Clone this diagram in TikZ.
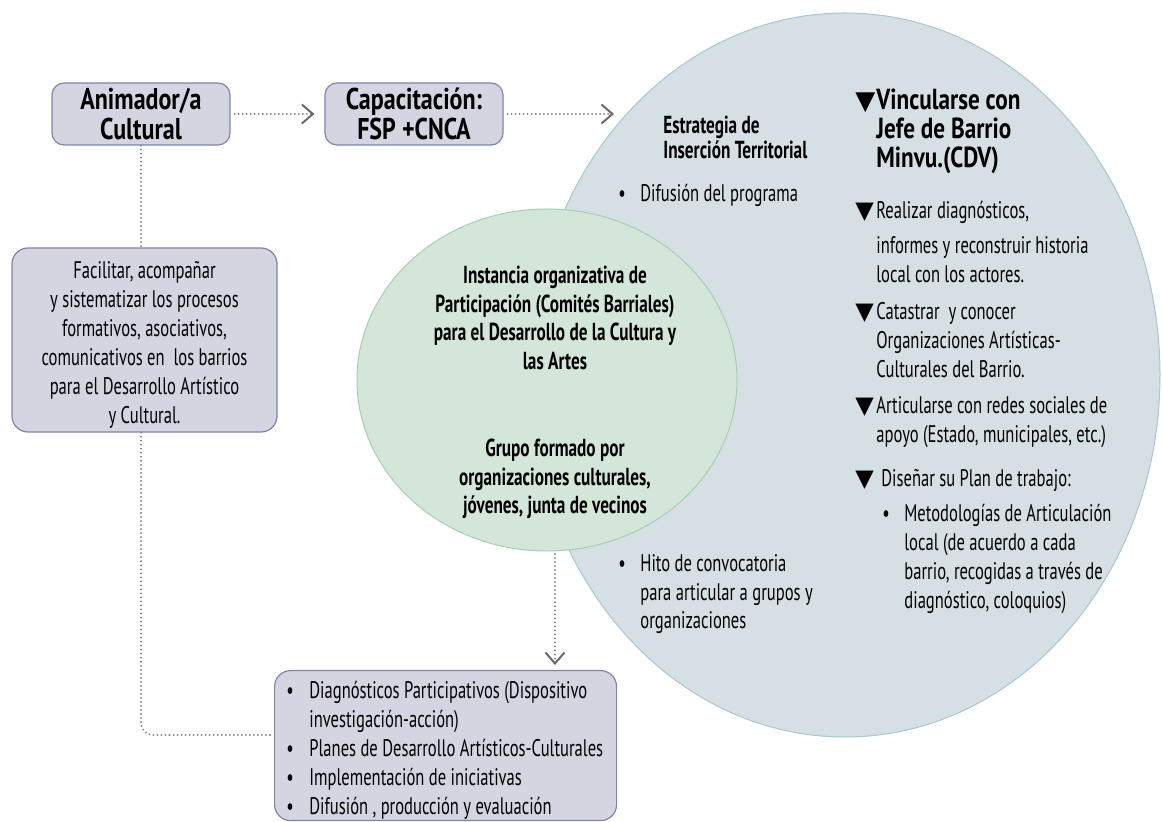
\documentclass[tikz,border=0pt]{standalone}
\usepackage{fontspec}
\setmainfont{PT Sans}[FakeStretch=0.69]
\newfontfamily\bfam{PT Sans}[FakeStretch=0.70]
\newfontfamily\tfam{PT Sans}[FakeStretch=0.80]
\newfontfamily\symfont{DejaVu Sans}
\usetikzlibrary{arrows.meta,shapes.geometric}
\definecolor{boxfill}{HTML}{D5D5E2}
\definecolor{boxline}{HTML}{8282AC}
\definecolor{ellfill}{HTML}{D6DFE4}
\definecolor{ellline}{HTML}{A9C7CF}
\definecolor{grnfill}{HTML}{D4E6D9}
\definecolor{grnline}{HTML}{A5CFB2}
\definecolor{arrcol}{HTML}{7A7A7A}
\definecolor{tipcol}{HTML}{6A6A6A}
\tikzset{
  pbox/.style={draw=boxline, fill=boxfill, line width=0.6pt, rounded corners=7pt, inner sep=0pt},
  dotline/.style={draw=arrcol, line width=1pt, line cap=round, dash pattern=on 0.01pt off 2pt},
  chev/.style={-{Straight Barb[length=5.5pt,width=9.5pt,line width=1pt,color=tipcol]}},
  tl/.style={inner sep=0pt, anchor=base west},
  tc/.style={inner sep=0pt, anchor=base},
  reg/.style={font=\fontsize{12}{14.5}\selectfont},
  bld/.style={font=\bfam\fontsize{12.3}{14.25}\selectfont\bfseries},
  ttl/.style={font=\tfam\fontsize{15}{15}\selectfont\bfseries},
}
\newcommand{\tri}{{\symfont\fontsize{12}{12}\selectfont ▼}}
\begin{document}
\begin{tikzpicture}[x=0.5pt,y=-0.5pt]
\path[use as bounding box] (0,0) rectangle (1163,822);
% big shapes
\node[ellipse, draw=ellline, fill=ellfill, line width=0.5pt, minimum width=315pt, minimum height=362pt, inner sep=0pt] (ell) at (845,375) {};
\node[ellipse, draw=grnline, fill=grnfill, line width=0.5pt, minimum width=190pt, minimum height=171pt, inner sep=0pt] (grn) at (547,380) {};
% boxes
\node[pbox, ttl, align=center, minimum width=89pt, minimum height=31pt, rounded corners=6pt] (anim) at (141,114) {Animador/a\\Cultural};
\node[pbox, ttl, align=center, minimum width=89pt, minimum height=31pt, rounded corners=6pt] (cap) at (414,114) {Capacitación:\\FSP +CNCA};
\node[pbox, minimum width=132.5pt, minimum height=92pt, rounded corners=8pt] (fac) at (144.5,340) {};
\node[tc, reg] (fact) at (144.5,279) {\begin{tabular}[t]{@{}c@{}}Facilitar, acompañar\\ y sistematizar los procesos\\ formativos, asociativos,\\ comunicativos en~~los barrios\\ para el Desarrollo Artístico\\ y Cultural.\end{tabular}};
\node[pbox, anchor=north west, minimum width=171pt, minimum height=75pt, rounded corners=8pt] (diag) at (274,670) {};
\node[tl, reg] (diagt) at (286,699) {\begin{tabular}[t]{@{}p{11.5pt}@{}l@{}}
\textbullet & Diagnósticos Participativos (Dispositivo\\
 & investigación-acción)\\
\textbullet & Planes de Desarrollo Artísticos-Culturales\\
\textbullet & Implementación de iniciativas\\
\textbullet & Difusión , producción y evaluación
\end{tabular}};
% green ellipse text
\node[tc, bld] (g1) at (555,284) {\begin{tabular}[t]{@{}c@{}}Instancia organizativa de\\Participación (Comités Barriales)\\para el Desarrollo de la Cultura y\\las Artes\end{tabular}};
\node[tc, bld] (g2) at (555,457) {\begin{tabular}[t]{@{}c@{}}Grupo formado por\\organizaciones culturales,\\jóvenes, junta de vecinos\end{tabular}};
% left column inside big ellipse
\node[tl, font=\bfam\fontsize{12.3}{12}\selectfont\bfseries] (estr) at (663,134) {\begin{tabular}[t]{@{}l@{}}Estrategia de\\Inserción Territorial\end{tabular}};
\node[tl, reg] (dif) at (618,202) {\begin{tabular}[t]{@{}p{11pt}@{}l@{}}\textbullet & Difusión del programa\end{tabular}};
\node[tl, reg, font=\fontsize{12}{14.25}\selectfont] (hito) at (618,572) {\begin{tabular}[t]{@{}p{11pt}@{}l@{}}\textbullet & Hito de convocatoria\\ & para articular a grupos y\\ & organizaciones\end{tabular}};
% right column
\node[tl, font=\tfam\fontsize{14.5}{13.5}\selectfont\bfseries] (vinc) at (855,110) {\begin{tabular}[t]{@{}p{10.5pt}@{}l@{}}{\symfont\fontsize{13}{13}\selectfont ▼} & Vincularse con\\ & Jefe de Barrio\\ & Minvu.(CDV)\end{tabular}};
\node[tl, reg] (real) at (855,219) {\begin{tabular}[t]{@{}p{10.5pt}@{}l@{}}\tri & Realizar diagnósticos,\\[3pt] & informes y reconstruir historia\\ & local con los actores.\end{tabular}};
\node[tl, reg] (cat) at (855,320) {\begin{tabular}[t]{@{}p{10.5pt}@{}l@{}}\tri & Catastrar~ y conocer\\ & Organizaciones Artísticas-\\ & Culturales del Barrio.\end{tabular}};
\node[tl, reg] (art) at (855,414) {\begin{tabular}[t]{@{}p{10.5pt}@{}l@{}}\tri & Articularse con redes sociales de\\ & apoyo (Estado, municipales, etc.)\end{tabular}};
\node[tl, reg] (dis) at (855,487) {\begin{tabular}[t]{@{}p{13pt}@{}l@{}}\tri & Diseñar su Plan de trabajo:\end{tabular}};
\node[tl, reg] (met) at (882,522) {\begin{tabular}[t]{@{}p{11pt}@{}l@{}}\textbullet & Metodologías de Articulación\\ & local (de acuerdo a cada\\ & barrio, recogidas a través de\\ & diagnóstico, coloquios)\end{tabular}};
% connectors
\coordinate (e2) at (614,114);
\coordinate (gs) at (555,554);
\coordinate (dt) at (555,665);
\coordinate (dl) at (274,735);
\draw[dotline, chev, shorten <=2pt, shorten >=5pt] (anim.east) -- (cap.west);
\draw[dotline, chev, shorten <=2pt] (cap.east) -- (e2);
\draw[dotline] (anim.south) -- (anim.south |- fac.north);
\draw[dotline, rounded corners=6pt] (anim.south |- fac.south) |- (dl);
\draw[dotline, chev] (gs) -- (dt);
\end{tikzpicture}
\end{document}
